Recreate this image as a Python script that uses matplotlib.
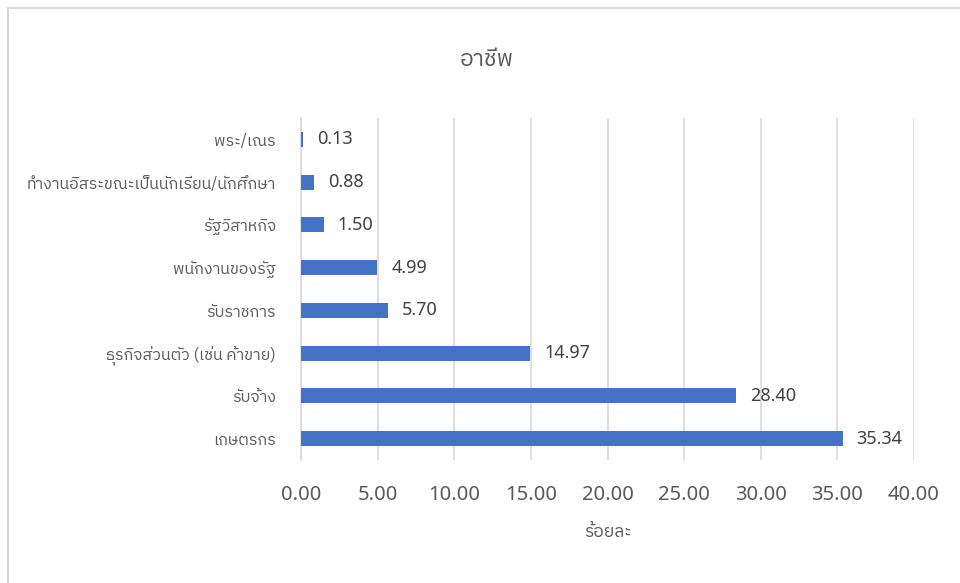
import matplotlib
matplotlib.use("Agg")
import matplotlib.pyplot as plt
from matplotlib import font_manager, ft2font
from matplotlib.patches import Rectangle

categories = ["เกษตรกร", "รับจ้าง", "ธุรกิจส่วนตัว (เช่น ค้าขาย)", "รับราชการ",
              "พนักงานของรัฐ", "รัฐวิสาหกิจ", "ทำงานอิสระขณะเป็นนักเรียน/นักศึกษา", "พระ/เณร"]
values = [35.34, 28.40, 14.97, 5.70, 4.99, 1.50, 0.88, 0.13]
xticks = [0, 5, 10, 15, 20, 25, 30, 35, 40]
title = "อาชีพ"
xlabel = "ร้อยละ"


# find some installed font that has Thai glyphs
def find_thai_font():
    best = None
    for f in font_manager.fontManager.ttflist:
        try:
            cmap = ft2font.FT2Font(f.fname).get_charmap()
        except Exception:
            continue
        if 0x0E2D in cmap and 0x0E35 in cmap:
            if "sans" in f.name.lower():
                return f.name
            if best is None:
                best = f.name
    return best


thai = find_thai_font()
fams = ["Noto Sans", "DejaVu Sans"]
if thai:
    fams = [thai] + fams
plt.rcParams["font.family"] = fams

fig = plt.figure(figsize=(9.6, 5.83), dpi=100)
ax = fig.add_axes([301 / 960, 1 - 460 / 583, 613 / 960, 342 / 583])

ypos = list(range(len(categories)))
ax.barh(ypos, values, height=0.35, color="#4472C4", zorder=3)
for y, v in zip(ypos, values):
    ax.text(v + 0.9, y, f"{v:.2f}", va="center", ha="left", fontsize=13,
            color="#404040", family=["Noto Sans", "DejaVu Sans"])

ax.set_xlim(0, 40)
ax.set_ylim(-0.5, len(categories) - 0.5)
ax.set_xticks(xticks)
ax.set_xticklabels([f"{t:.2f}" for t in xticks], family=["Noto Sans", "DejaVu Sans"])
ax.set_yticks(ypos)
ax.set_yticklabels(categories)
ax.tick_params(axis="x", length=0, pad=18, labelsize=14.5, colors="#595959")
ax.tick_params(axis="y", length=0, pad=18, labelsize=11.5, colors="#595959")
ax.grid(axis="x", color="#d9d9d9", linewidth=1.2, zorder=0)
for s in ["top", "right", "bottom"]:
    ax.spines[s].set_visible(False)
ax.spines["left"].set_color("#d9d9d9")
ax.spines["left"].set_linewidth(1.2)

fig.text(487 / 960, 1 - 60 / 583, title, ha="center", va="center", fontsize=16.5, color="#595959")
fig.text(608 / 960, 1 - 532 / 583, xlabel, ha="center", va="center", fontsize=12.5, color="#595959")

# outer chart border
fig.patches.append(Rectangle((8 / 960, -0.1), 1.2, 1 - 8 / 583 + 0.1, transform=fig.transFigure,
                             fill=False, edgecolor="#d9d9d9", linewidth=1.5))

fig.savefig("out.png", dpi=100)
